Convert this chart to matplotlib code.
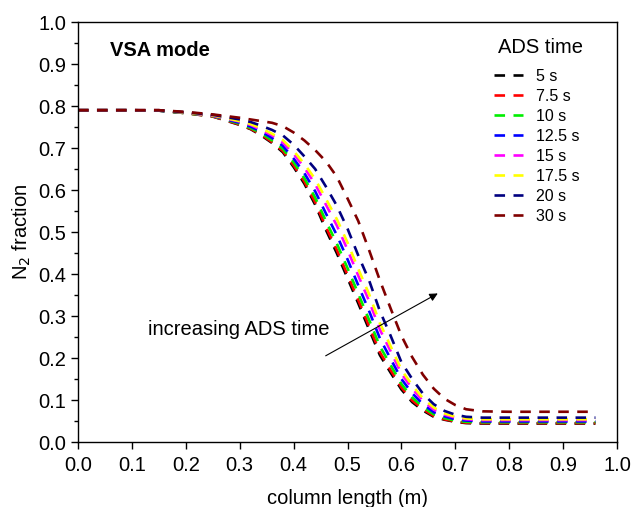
import matplotlib
matplotlib.use("Agg")
import matplotlib.pyplot as plt
from matplotlib.ticker import MultipleLocator

plt.rcParams['font.family'] = ['Liberation Sans', 'DejaVu Sans']

# column position (m)
x = [0.00, 0.05, 0.10, 0.15, 0.20, 0.25, 0.30, 0.32, 0.34, 0.36, 0.38,
     0.40, 0.42, 0.44, 0.46, 0.48, 0.50, 0.52, 0.54, 0.56, 0.58, 0.60,
     0.62, 0.64, 0.66, 0.68, 0.70, 0.72, 0.75, 0.80, 0.96]

labels = ["5 s", "7.5 s", "10 s", "12.5 s", "15 s", "17.5 s", "20 s", "30 s"]
colors = ["#000000", "#ff0000", "#00ee00", "#0000ff", "#ff00ff", "#ffff00",
          "#000080", "#800000"]

n2_5s = [0.790, 0.790, 0.790, 0.789, 0.783, 0.775, 0.755, 0.745, 0.730, 0.712, 0.690,
         0.655, 0.615, 0.565, 0.505, 0.450, 0.390, 0.330, 0.268, 0.207, 0.165, 0.125,
         0.095, 0.075, 0.060, 0.053, 0.048, 0.045, 0.044, 0.044, 0.044]
n2_7_5s = [0.790, 0.790, 0.790, 0.789, 0.783, 0.775, 0.756, 0.746, 0.732, 0.714, 0.693,
           0.659, 0.620, 0.571, 0.512, 0.458, 0.398, 0.338, 0.276, 0.214, 0.171, 0.130,
           0.099, 0.078, 0.062, 0.054, 0.049, 0.046, 0.045, 0.045, 0.045]
n2_10s = [0.790, 0.790, 0.790, 0.789, 0.783, 0.776, 0.758, 0.748, 0.735, 0.718, 0.698,
          0.666, 0.628, 0.582, 0.526, 0.473, 0.414, 0.353, 0.291, 0.228, 0.183, 0.138,
          0.106, 0.083, 0.066, 0.057, 0.051, 0.048, 0.047, 0.047, 0.047]
n2_12_5s = [0.790, 0.790, 0.790, 0.789, 0.784, 0.777, 0.760, 0.751, 0.739, 0.724, 0.705,
            0.675, 0.640, 0.597, 0.544, 0.493, 0.435, 0.373, 0.312, 0.247, 0.198, 0.150,
            0.116, 0.090, 0.071, 0.061, 0.054, 0.051, 0.049, 0.049, 0.049]
n2_15s = [0.790, 0.790, 0.790, 0.790, 0.784, 0.777, 0.763, 0.755, 0.743, 0.730, 0.713,
          0.686, 0.653, 0.614, 0.565, 0.516, 0.458, 0.396, 0.336, 0.268, 0.216, 0.163,
          0.127, 0.098, 0.077, 0.065, 0.058, 0.054, 0.052, 0.052, 0.052]
n2_17_5s = [0.790, 0.790, 0.790, 0.790, 0.784, 0.778, 0.764, 0.757, 0.747, 0.734, 0.719,
            0.693, 0.662, 0.626, 0.579, 0.531, 0.475, 0.412, 0.352, 0.283, 0.228, 0.172,
            0.135, 0.104, 0.082, 0.068, 0.060, 0.056, 0.054, 0.054, 0.054]
n2_20s = [0.790, 0.790, 0.790, 0.790, 0.785, 0.779, 0.768, 0.762, 0.753, 0.743, 0.730,
          0.708, 0.680, 0.650, 0.608, 0.563, 0.508, 0.444, 0.385, 0.312, 0.253, 0.190,
          0.150, 0.115, 0.090, 0.074, 0.065, 0.060, 0.058, 0.058, 0.058]
n2_30s = [0.790, 0.790, 0.790, 0.790, 0.786, 0.780, 0.772, 0.768, 0.764, 0.760, 0.752,
          0.737, 0.718, 0.695, 0.668, 0.632, 0.580, 0.526, 0.457, 0.385, 0.318, 0.253,
          0.202, 0.160, 0.127, 0.103, 0.088, 0.078, 0.073, 0.072, 0.072]

series = [n2_5s, n2_7_5s, n2_10s, n2_12_5s, n2_15s, n2_17_5s, n2_20s, n2_30s]

fig = plt.figure(figsize=(6.32, 5.07), dpi=100)
ax = fig.add_axes([0.1234, 0.1282, 0.8529, 0.8284])

for y, c, lab in zip(series, colors, labels):
    line, = ax.plot(x, y, color=c, lw=1.9, label=lab)
    line.set_dashes([4.0, 3.2])

ax.set_xlim(0.0, 1.0)
ax.set_ylim(0.0, 1.0)
ax.xaxis.set_major_locator(MultipleLocator(0.1))
ax.yaxis.set_major_locator(MultipleLocator(0.1))
ax.yaxis.set_minor_locator(MultipleLocator(0.05))
ax.tick_params(which='major', direction='out', length=5, width=1, labelsize=14.5,
               top=False, right=False)
ax.tick_params(axis='x', which='major', pad=5)
ax.tick_params(axis='y', which='major', pad=3.5)
ax.tick_params(which='minor', direction='out', length=3, width=1,
               top=False, right=False)
for s in ax.spines.values():
    s.set_linewidth(1.0)

ax.set_xlabel("column length (m)", fontsize=14.5, labelpad=10)
ax.set_ylabel("N$_2$ fraction", fontsize=14.5, labelpad=4)

ax.text(0.06, 0.933, "VSA mode", fontsize=14.5, fontweight='bold',
        transform=ax.transAxes, va='center', ha='left')

ax.annotate("", xy=(0.672, 0.357), xytext=(0.455, 0.202),
            arrowprops=dict(arrowstyle='-|>', color='black', lw=0.8,
                            mutation_scale=12))
ax.text(0.13, 0.267, "increasing ADS time", fontsize=14.5, va='center', ha='left')

# legend heading drawn separately so it sits a little higher above the entries
ax.text(0.858, 0.94, "ADS time", fontsize=14.5, transform=ax.transAxes,
        ha='center', va='center')
leg = ax.legend(loc='upper left', bbox_to_anchor=(0.751, 0.915), frameon=False,
                fontsize=11.5, handlelength=1.8, handletextpad=0.85,
                labelspacing=0.31, borderpad=0.2)

fig.savefig("out.png", dpi=100)
